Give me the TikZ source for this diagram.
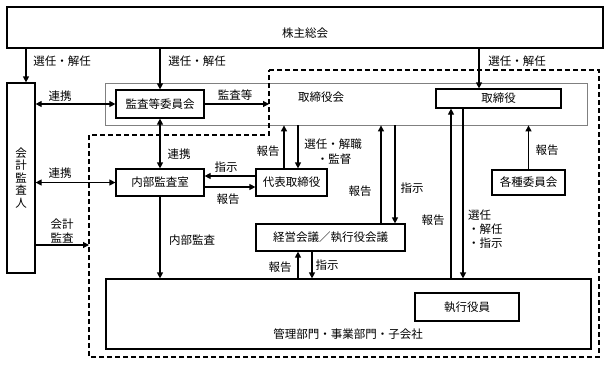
\documentclass[tikz,border=0pt]{standalone}
\usepackage{fontspec}
\setmainfont{Noto Sans CJK JP}
\usetikzlibrary{arrows.meta}
\begin{document}
\begin{tikzpicture}[x=1pt,y=-1pt,
  every node/.style={font=\fontsize{11.5}{13}\selectfont},
  bx/.style={draw, line width=1.2pt, inner sep=0pt, fill=white},
  lbl/.style={inner sep=0pt},
  ar/.style={line width=1.2pt, -{Triangle[length=6pt,width=6pt]}},
  dar/.style={line width=1.2pt, {Triangle[length=6pt,width=6pt]}-{Triangle[length=6pt,width=6pt]}},
  dsh/.style={line width=1.2pt, dash pattern=on 5pt off 3pt}]
\useasboundingbox (0,0) rectangle (609,364);
% coordinates for arrow positions
\coordinate (c26) at (26,0);
\coordinate (c479) at (479,0);
\coordinate (c284) at (284,0);
\coordinate (c298) at (298,0);
\coordinate (c381) at (381,0);
\coordinate (c395) at (395,0);
\coordinate (c451) at (451,0);
\coordinate (c463) at (463,0);
\coordinate (c312) at (312,0);
\coordinate (y176) at (0,176);
\coordinate (y187) at (0,187);
\coordinate (y245) at (0,245);
% dashed region corners
\coordinate (d1) at (269,70);
\coordinate (d2) at (599,70);
\coordinate (d3) at (599,357);
\coordinate (d4) at (89,357);
\coordinate (d5) at (89,135);
\coordinate (d6) at (269,135);
% gray board box
\node[draw=black!50, line width=0.8pt, minimum width=482pt, minimum height=42pt, inner sep=0pt] (board) at (346,104) {};
\node[lbl] (boardt) at (321,97) {取締役会};
% dashed outline
\draw[dsh] (d1) -- (d2) -- (d3) -- (d4) -- (d5) -- (d6) -- cycle;
% boxes
\node[bx, minimum width=596pt, minimum height=41pt] (sh) at (305,27.5) {};
\node[lbl] (sht) at (305,33) {株主総会};
\node[bx, minimum width=28pt, minimum height=190pt, align=center, font=\fontsize{11.5}{12.5}\selectfont] (acct) at (21,178) {会\\計\\監\\査\\人};
\node[bx, minimum width=88pt, minimum height=28pt] (kansa) at (160,104) {監査等委員会};
\node[bx, minimum width=88pt, minimum height=27pt] (naibu) at (160,182.5) {内部監査室};
\node[bx, minimum width=71pt, minimum height=27pt] (daihyo) at (291.5,182.5) {代表取締役};
\node[bx, minimum width=125pt, minimum height=19pt] (tori) at (498.5,98.5) {取締役};
\node[bx, minimum width=73pt, minimum height=25pt] (kakushu) at (528.5,182.5) {各種委員会};
\node[bx, minimum width=149pt, minimum height=27pt] (keiei) at (330.5,237.5) {経営会議／執行役会議};
\node[bx, minimum width=485pt, minimum height=70pt] (kanri) at (348.5,314) {};
\node[lbl] (kanrit) at (348,334) {管理部門・事業部門・子会社};
\node[bx, minimum width=104pt, minimum height=28pt] (shikko) at (467,307) {執行役員};
% arrows
\draw[ar] (sh.south -| c26) -- (acct.north -| c26);
\draw[ar] (sh.south -| kansa) -- (kansa.north);
\draw[ar] (sh.south -| c479) -- (tori.north -| c479);
\draw[dar] (acct.east |- kansa) -- (kansa.west);
\draw[ar] (kansa.east) -- (d1 |- kansa);
\draw[dar] (kansa.south) -- (naibu.north);
\draw[dar] (acct.east |- naibu) -- (naibu.west);
\draw[ar] (acct.east |- y245) -- (d5 |- y245);
\draw[ar] (daihyo.west |- y176) -- (naibu.east |- y176);
\draw[ar] (naibu.east |- y187) -- (daihyo.west |- y187);
\draw[ar] (daihyo.north -| c284) -- (board.south -| c284);
\draw[ar] (board.south -| c298) -- (daihyo.north -| c298);
\draw[ar] (keiei.north -| c381) -- (board.south -| c381);
\draw[ar] (board.south -| c395) -- (keiei.north -| c395);
\draw[ar] (kanri.north -| c451) -- (tori.south -| c451);
\draw[ar] (tori.south -| c463) -- (kanri.north -| c463);
\draw[ar] (kakushu.north) -- (board.south -| kakushu);
\draw[ar] (naibu.south) -- (kanri.north -| naibu);
\draw[ar] (kanri.north -| c298) -- (keiei.south -| c298);
\draw[ar] (keiei.south -| c312) -- (kanri.north -| c312);
% labels
\node[lbl] (l1) at (62,61) {選任・解任};
\node[lbl] (l2) at (197,61) {選任・解任};
\node[lbl] (l3) at (517,61) {選任・解任};
\node[lbl] (l4) at (60,96) {連携};
\node[lbl] (l5) at (235,95) {監査等};
\node[lbl] (l6) at (179,154) {連携};
\node[lbl] (l7) at (60,173) {連携};
\node[lbl, align=center, font=\fontsize{11.5}{13.5}\selectfont] (l8) at (62,231) {会計\\監査};
\node[lbl] (l9) at (226,167) {指示};
\node[lbl] (l10) at (228,199) {報告};
\node[lbl] (l11) at (268,151) {報告};
\node[lbl] (l12) at (333,144) {選任・解職};
\node[lbl] (l13) at (334,159) {・監督};
\node[lbl] (l14) at (360,191) {報告};
\node[lbl] (l15) at (412,188) {指示};
\node[lbl] (l16) at (433,220) {報告};
\node[lbl, align=left, anchor=west, font=\fontsize{11.5}{14}\selectfont] (l17) at (468,229) {選任\\・解任\\・指示};
\node[lbl] (l18) at (547,150) {報告};
\node[lbl] (l19) at (192,240) {内部監査};
\node[lbl] (l20) at (280,267) {報告};
\node[lbl] (l21) at (327,265) {指示};
\end{tikzpicture}
\end{document}
